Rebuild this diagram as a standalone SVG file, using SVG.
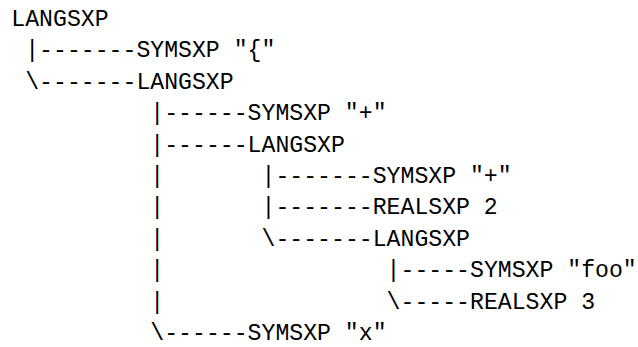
<svg xmlns="http://www.w3.org/2000/svg" width="638" height="347" viewBox="0 0 638 347">
<style>
text{font-family:"Liberation Mono","DejaVu Sans Mono",monospace;font-size:23.17px;fill:#000;white-space:pre}
</style>
<rect width="638" height="347" fill="#fff"/>
<g id="connectors">
<text x="25.2" y="57.4">|-------</text>
<text x="25.2" y="88.8">\-------</text>
<text x="150.3" y="120.2">|------</text>
<text x="150.3" y="151.6">|------</text>
<text x="150.3" y="183">|</text>
<text x="261.5" y="183">|-------</text>
<text x="150.3" y="214.4">|</text>
<text x="261.5" y="214.4">|-------</text>
<text x="150.3" y="245.8">|</text>
<text x="261.5" y="245.8">\-------</text>
<text x="150.3" y="277.2">|</text>
<text x="386.6" y="277.2">|-----</text>
<text x="150.3" y="308.6">|</text>
<text x="386.6" y="308.6">\-----</text>
<text x="150.3" y="340">\------</text>
</g>
<g id="n1"><text x="11.3" y="26">LANGSXP</text></g>
<g id="n2"><text x="136.4" y="57.4">SYMSXP "{"</text></g>
<g id="n3"><text x="136.4" y="88.8">LANGSXP</text></g>
<g id="n4"><text x="247.6" y="120.2">SYMSXP "+"</text></g>
<g id="n5"><text x="247.6" y="151.6">LANGSXP</text></g>
<g id="n6"><text x="372.7" y="183">SYMSXP "+"</text></g>
<g id="n7"><text x="372.7" y="214.4">REALSXP 2</text></g>
<g id="n8"><text x="372.7" y="245.8">LANGSXP</text></g>
<g id="n9"><text x="470" y="277.2">SYMSXP "foo"</text></g>
<g id="n10"><text x="470" y="308.6">REALSXP 3</text></g>
<g id="n11"><text x="247.6" y="340">SYMSXP "x"</text></g>
</svg>
